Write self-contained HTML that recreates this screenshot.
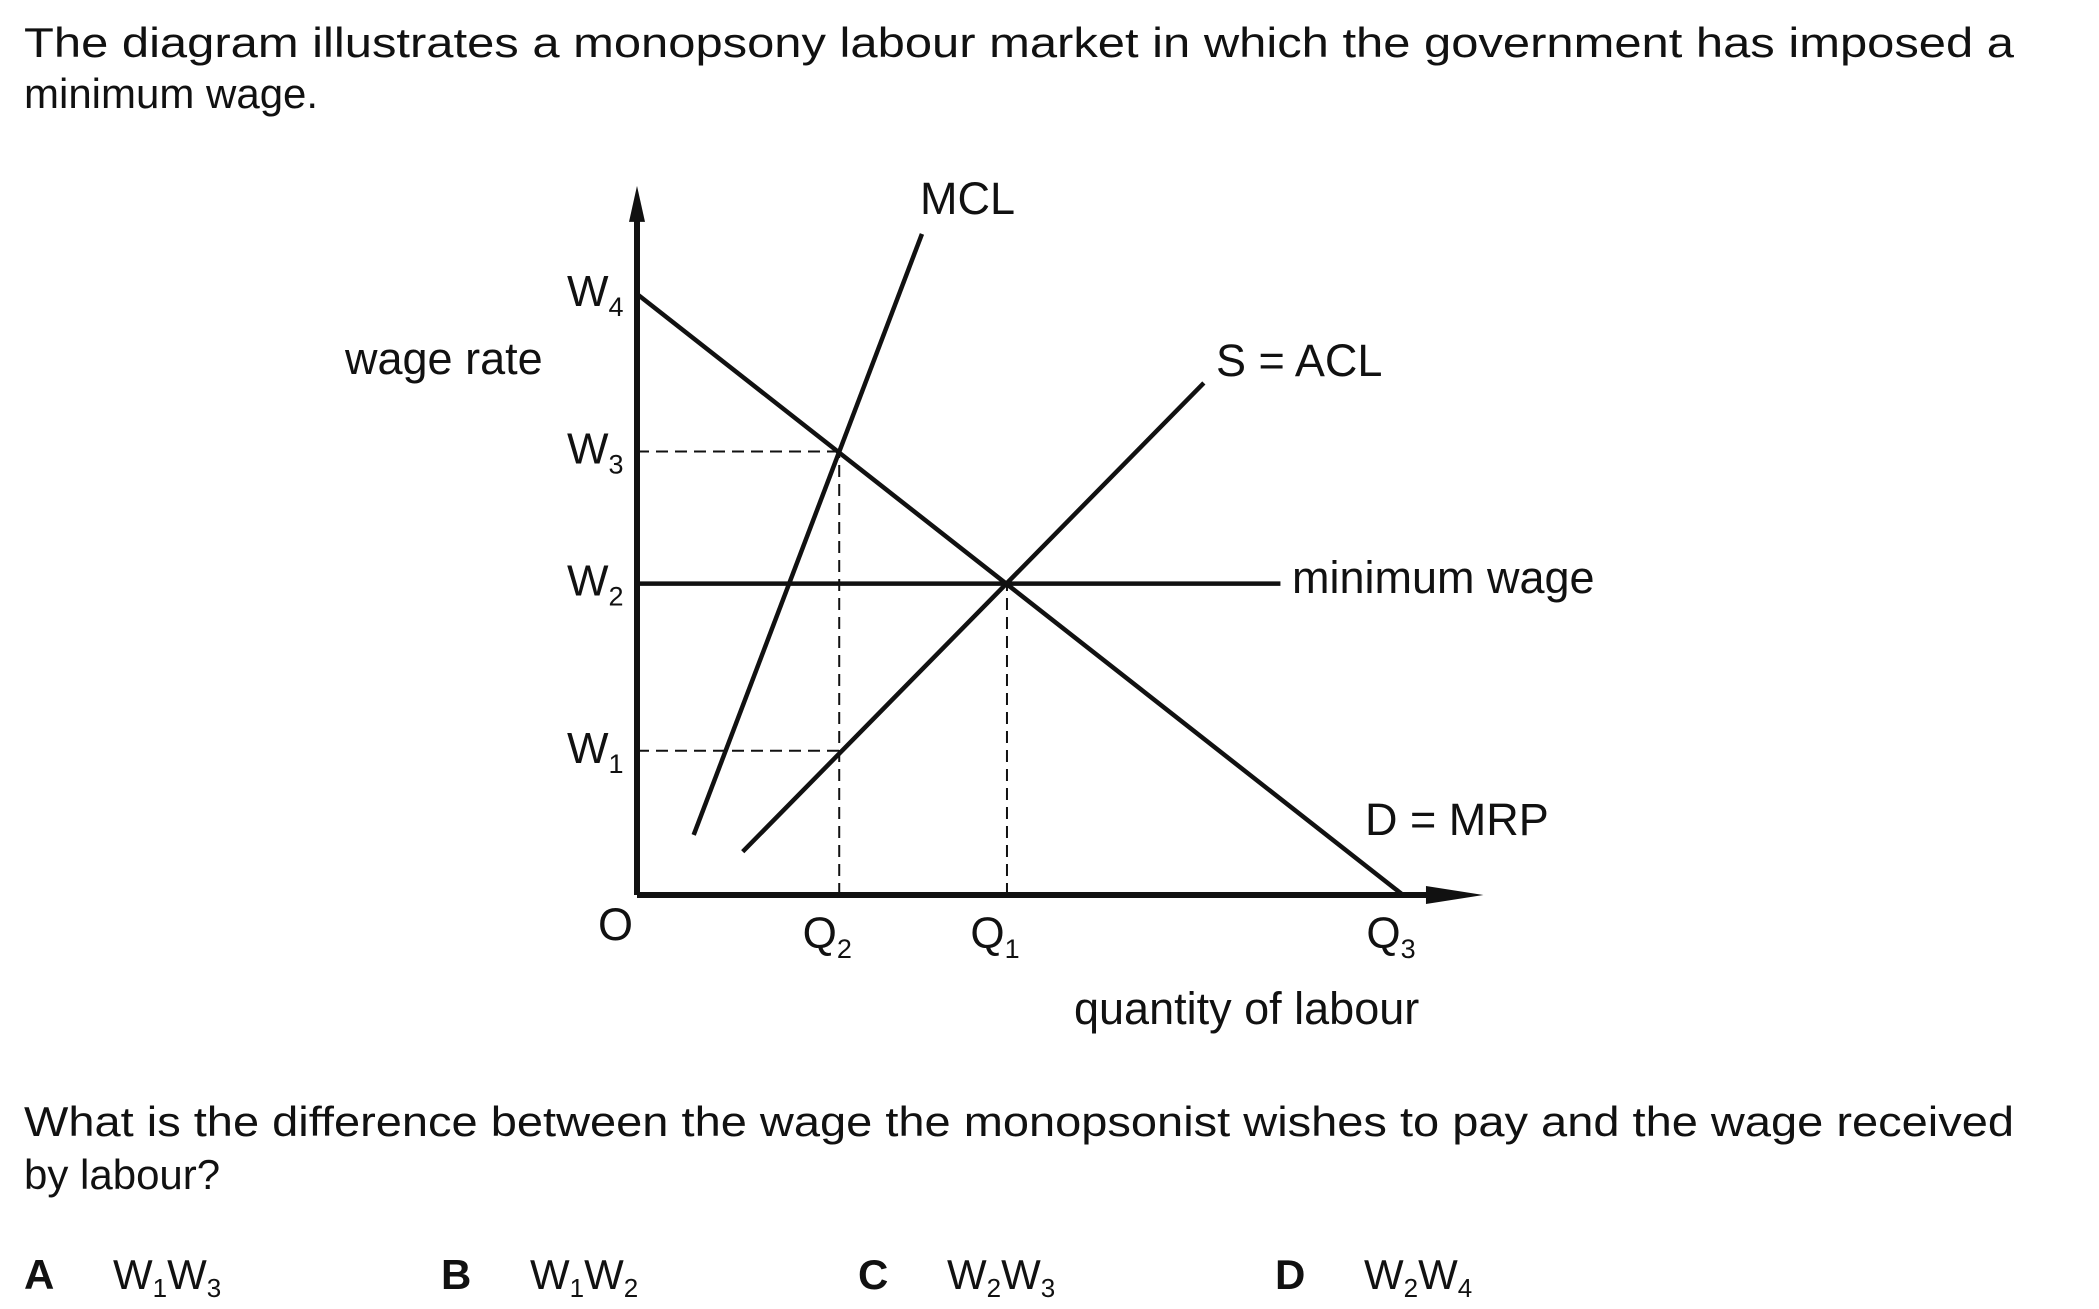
<!DOCTYPE html>
<html><head><meta charset="utf-8"><style>
html,body{margin:0;padding:0;background:#fff;}
svg{display:block;font-family:"Liberation Sans",Arial,sans-serif;}
text{fill:#111;}
</style></head><body>
<svg id="chart" width="2099" height="1309" viewBox="0 0 2099 1309" xmlns="http://www.w3.org/2000/svg">
<text x="24" y="57" font-size="42" textLength="1990" lengthAdjust="spacingAndGlyphs">The diagram illustrates a monopsony labour market in which the government has imposed a</text>
<text x="24" y="108" font-size="42">minimum wage.</text>
<g id="plot"></g>
<text x="24" y="1136" font-size="42" textLength="1990" lengthAdjust="spacingAndGlyphs">What is the difference between the wage the monopsonist wishes to pay and the wage received</text>
<text x="24" y="1189" font-size="42">by labour?</text>
<g font-size="42">
<text x="24" y="1289"><tspan font-weight="bold">A</tspan><tspan x="113">W</tspan><tspan font-size="26" dy="8">1</tspan><tspan dy="-8">W</tspan><tspan font-size="26" dy="8">3</tspan></text>
<text x="441" y="1289"><tspan font-weight="bold">B</tspan><tspan x="530">W</tspan><tspan font-size="26" dy="8">1</tspan><tspan dy="-8">W</tspan><tspan font-size="26" dy="8">2</tspan></text>
<text x="858" y="1289"><tspan font-weight="bold">C</tspan><tspan x="947">W</tspan><tspan font-size="26" dy="8">2</tspan><tspan dy="-8">W</tspan><tspan font-size="26" dy="8">3</tspan></text>
<text x="1275" y="1289"><tspan font-weight="bold">D</tspan><tspan x="1364">W</tspan><tspan font-size="26" dy="8">2</tspan><tspan dy="-8">W</tspan><tspan font-size="26" dy="8">4</tspan></text>
</g>
</svg>
<script>
// data (quantity units: Q3 = 10; wage units: W4 = 10)
const wageLabels = ["W1","W2","W3","W4"];
const wageValues = [2.4, 5.18, 7.38, 10];
const qtyLabels = ["Q2","Q1","Q3"];
const qtyValues = [2.64, 4.83, 10];
const demandLine = [[0,10],[10,0]];
const mclLine = [[0.74,1.0],[3.72,11.0]];
const supplyLine = [[1.38,0.72],[7.4,8.52]];
const minWage = 5.18;
const minWageEnd = 8.4;
const xMax = 11.05, yMax = 11.8;

const NS="http://www.w3.org/2000/svg";
const X0=637, Y0=895, XU=76.6, YU=60.1;
const sx=q=>X0+q*XU, sy=w=>Y0-w*YU;
const g=document.getElementById('plot');
function mk(tag,attrs,parent){const e=document.createElementNS(NS,tag);for(const k in attrs)e.setAttribute(k,attrs[k]);(parent||g).appendChild(e);return e;}
function line(p,w,name,dash){const e=mk('line',{x1:sx(p[0][0]),y1:sy(p[0][1]),x2:sx(p[1][0]),y2:sy(p[1][1]),stroke:'#111','stroke-width':w});if(dash)e.setAttribute('stroke-dasharray',dash);


return e;}
function sub(x,y,main,s,name,anchor){const t=mk('text',{x:x,y:y,'font-size':44});if(anchor)t.setAttribute('text-anchor',anchor);


const a=mk('tspan',{},t);a.textContent=main;const b=mk('tspan',{'font-size':27,dy:10},t);b.textContent=s;return t;}

// dashed guides
[[qtyValues[0],wageValues[2]],[qtyValues[0],wageValues[0]]].forEach((p,i)=>{
  line([[0,p[1]],[p[0],p[1]]],2,'guide-h-'+i,'12 7');
});
line([[qtyValues[0],0],[qtyValues[0],wageValues[2]]],2,'guide-q2','12 7');
line([[qtyValues[1],0],[qtyValues[1],minWage]],2,'guide-q1','12 7');

// curves
line(demandLine,4.5,'demand-mrp-line');
line(mclLine,4.5,'mcl-line');
line(supplyLine,4.5,'supply-acl-line');
line([[0,minWage],[minWageEnd,minWage]],4.5,'minimum-wage-line');

// axes
line([[0,0],[0,yMax-0.5]],6,'y-axis');
line([[0,0],[xMax-0.6,0]],6,'x-axis');
const ya=mk('polygon',{points:`${X0-8},${sy(yMax-0.6)} ${X0+8},${sy(yMax-0.6)} ${X0},${sy(yMax)}`,fill:'#111'});


const xa=mk('polygon',{points:`${sx(xMax-0.75)},${Y0-9} ${sx(xMax-0.75)},${Y0+9} ${sx(xMax)},${Y0}`,fill:'#111'});



// wage tick labels
wageValues.forEach((w,i)=>{sub(567,sy(w)+12,wageLabels[i][0],wageLabels[i][1],'wage-label-'+wageLabels[i].toLowerCase());});
qtyValues.forEach((q,i)=>{sub(sx(q)-12,948,qtyLabels[i][0],qtyLabels[i][1],'qty-label-'+qtyLabels[i].toLowerCase(),'middle');});
function txt(x,y,s,name){const t=mk('text',{x:x,y:y,'font-size':45});t.textContent=s;


return t;}
txt(598,940,'O','origin-label');
txt(345,374,'wage rate','y-axis-title');
txt(1074,1024,'quantity of labour','x-axis-title');
txt(920,214,'MCL','mcl-label');
txt(1216,376,'S = ACL','supply-label');
txt(1292,593,'minimum wage','minimum-wage-label');
txt(1365,835,'D = MRP','demand-label');
</script>
</body></html>
